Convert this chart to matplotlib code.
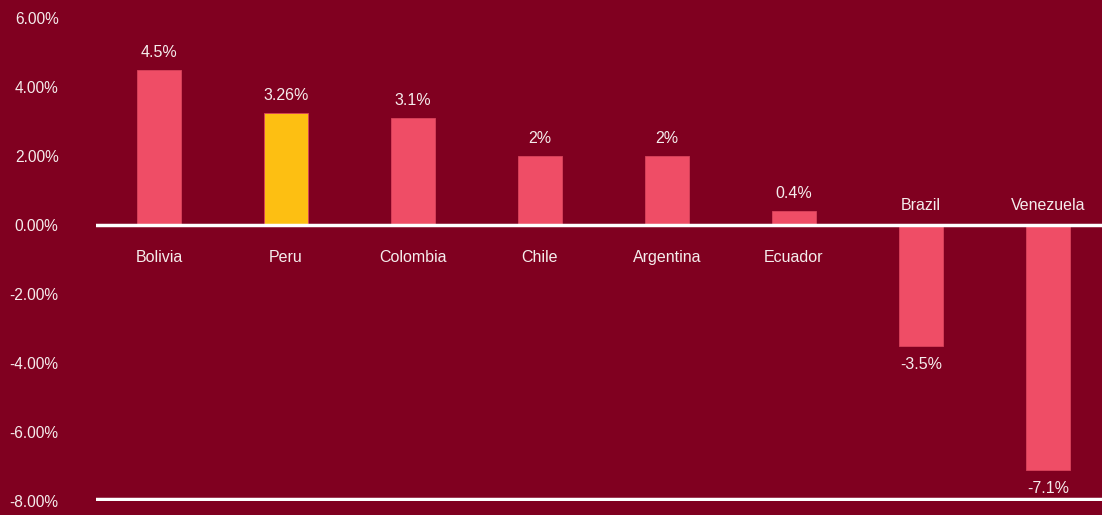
import matplotlib.pyplot as plt
import numpy as np

plt.rcParams['font.family'] = ['Liberation Sans', 'DejaVu Sans']

# GDP growth by country (%)
countries = ["Bolivia", "Peru", "Colombia", "Chile", "Argentina", "Ecuador", "Brazil", "Venezuela"]
growth = [4.5, 3.26, 3.1, 2, 2, 0.4, -3.5, -7.1]
value_labels = ["4.5%", "3.26%", "3.1%", "2%", "2%", "0.4%", "-3.5%", "-7.1%"]
highlight = "Peru"

bg = "#800020"
bar_color = "#EF4D66"
hl_color = "#FDBF12"
txt = "#F5ECEC"

fig = plt.figure(figsize=(11.02, 5.15), dpi=100, facecolor=bg)
ax = fig.add_axes([96 / 1102, (515 - 501) / 515, 1 - 96 / 1102, (501 - 18) / 515])
ax.set_facecolor(bg)

x = np.arange(len(countries))
colors = [hl_color if c == highlight else bar_color for c in countries]
ax.bar(x, growth, width=0.354, color=colors, edgecolor="#D9435C", linewidth=0.6, zorder=2)

ax.set_xlim(-0.496, -0.496 + 1006 / 127)
ax.set_ylim(-8, 6)

# zero line and bottom line
ax.axhline(0, color="white", lw=2.5, zorder=3)
ax.axhline(-7.93, color="white", lw=2.5, zorder=3)

for xi, v, lab, name in zip(x, growth, value_labels, countries):
    if v >= 0:
        ax.annotate(lab, (xi, v), xytext=(0, 7), textcoords="offset points",
                    ha="center", va="bottom", color=txt, fontsize=11.5)
        ax.annotate(name, (xi, 0), xytext=(0, -23.5), textcoords="offset points",
                    ha="center", va="center", color=txt, fontsize=11.5)
    else:
        ax.annotate(lab, (xi, v), xytext=(0, -8), textcoords="offset points",
                    ha="center", va="top", color=txt, fontsize=11.5)
        ax.annotate(name, (xi, 0), xytext=(0, 14), textcoords="offset points",
                    ha="center", va="center", color=txt, fontsize=11.5)

yt = np.arange(-8, 7, 2)
ax.set_yticks(yt)
ax.set_yticklabels([f"{t:.2f}%" for t in yt], color=txt, fontsize=11.2)
ax.tick_params(axis="y", length=0, pad=27)
ax.set_xticks([])
for s in ax.spines.values():
    s.set_visible(False)

fig.savefig("out.png", dpi=100, facecolor=bg)
